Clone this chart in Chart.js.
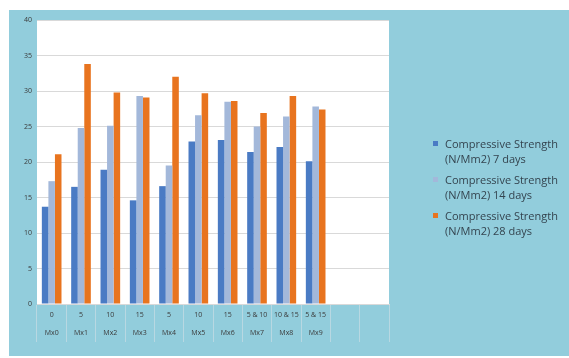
<!DOCTYPE html>
<html>
<head>
<meta charset="utf-8">
<script src="https://cdn.jsdelivr.net/npm/chart.js"></script>
<style>
  body { margin: 0; background: #fff; width: 569px; height: 358px; overflow: hidden; font-family: 'Open Sans', sans-serif; }
  #box { position: absolute; left: 9px; top: 10px; width: 560px; height: 346px; background: #92cddc; }
  #box canvas { position: absolute; left: 0; top: 0; }
  #legend { position: absolute; left: 424px; top: 126px; width: 140px; font-size: 11px; color: #34444f; line-height: 15px; }
  .item { position: relative; padding-left: 12px; margin-bottom: 6px; }
  .sw { position: absolute; left: 0; top: 5px; width: 5px; height: 5px; }
</style>
</head>
<body>
<div id="box">
  <canvas id="chart"></canvas>
  <div id="legend"></div>
</div>
<script>
// categories (two-level axis: dosage on top, mix below)
var dosage = ['0', '5', '10', '15', '5', '10', '15', '5 & 10', '10 & 15', '5 & 15', '', ''];
var mixes = ['Mx0', 'Mx1', 'Mx2', 'Mx3', 'Mx4', 'Mx5', 'Mx6', 'Mx7', 'Mx8', 'Mx9', '', ''];

// series values
var days7 = [13.7, 16.5, 18.9, 14.6, 16.6, 22.9, 23.1, 21.4, 22.1, 20.1];
var days14 = [17.3, 24.8, 25.1, 29.3, 19.5, 26.6, 28.5, 25.0, 26.4, 27.8];
var days28 = [21.1, 33.8, 29.8, 29.1, 32.0, 29.7, 28.6, 26.9, 29.3, 27.4];

var seriesNames = ['Compressive Strength (N/Mm2) 7 days', 'Compressive Strength (N/Mm2) 14 days', 'Compressive Strength (N/Mm2) 28 days'];
var seriesColors = ['#4a7bc4', '#a3b8da', '#e8741f'];

var labels = [];
for (var i = 0; i < dosage.length; i++) labels.push([dosage[i], mixes[i]]);

var values = [days7, days14, days28];
var datasets = [];
for (var s = 0; s < values.length; s++) {
  datasets.push({
    label: seriesNames[s],
    data: values[s],
    backgroundColor: seriesColors[s],
    borderWidth: 0,
    categoryPercentage: 0.67,
    barPercentage: 1.0
  });
}

// white plot area
var plotBg = {
  id: 'plotBg',
  beforeDraw: function (chart) {
    var a = chart.chartArea, ctx = chart.ctx;
    ctx.save();
    ctx.fillStyle = '#ffffff';
    ctx.fillRect(a.left, a.top, a.right - a.left, a.bottom - a.top);
    ctx.restore();
  }
};

new Chart(document.getElementById('chart'), {
  type: 'bar',
  data: { labels: labels, datasets: datasets },
  options: {
    responsive: true,
    maintainAspectRatio: false,
    animation: false,
    layout: { padding: { left: 0, top: 10, right: 180, bottom: 8 } },
    plugins: { legend: { display: false }, tooltip: { enabled: false } },
    scales: {
      x: {
        offset: true,
        grid: { offset: true, drawOnChartArea: false, drawTicks: true, tickLength: 38, tickColor: '#b8d8e2' },
        border: { display: true, color: '#d9d9d9' },
        ticks: {
          autoSkip: false, maxRotation: 0, minRotation: 0, padding: -36,
          color: '#3a3a3a', font: { family: 'Open Sans', size: 7 , lineHeight: 2.57 }
        },
        afterFit: function (scale) { scale.height = 44; }
      },
      y: {
        min: 0, max: 40,
        grid: { color: '#d9d9d9', drawTicks: false },
        border: { display: false },
        ticks: { stepSize: 5, padding: 5, color: '#3a3a3a', font: { family: 'Open Sans', size: 7 } },
        afterFit: function (scale) { scale.width = 28; }
      }
    }
  },
  plugins: [plotBg]
});

// legend as HTML text
var lg = document.getElementById('legend');
for (var k = 0; k < seriesNames.length; k++) {
  var item = document.createElement('div');
  item.className = 'item';
  var sw = document.createElement('span');
  sw.className = 'sw';
  sw.style.background = seriesColors[k];
  item.appendChild(sw);
  item.appendChild(document.createTextNode(seriesNames[k]));
  lg.appendChild(item);
}
</script>
</body>
</html>
